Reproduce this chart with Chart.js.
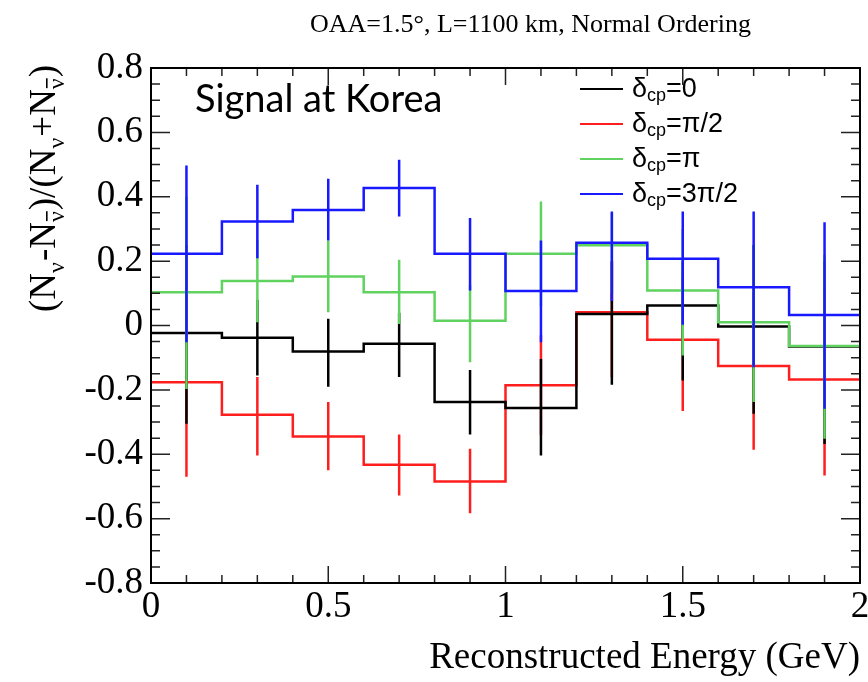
<!DOCTYPE html>
<html>
<head>
<meta charset="utf-8">
<script src="https://cdn.jsdelivr.net/npm/chart.js@4.4.1/dist/chart.umd.min.js"></script>
<style>
  html, body { margin: 0; padding: 0; background: #fff; }
</style>
</head>
<body>
<canvas id="asym" width="868" height="682"></canvas>
<script>
(() => {
    // bins: 10 bins of 0.2 GeV
    const binEdges   = [0, 0.2, 0.4, 0.6, 0.8, 1.0, 1.2, 1.4, 1.6, 1.8, 2.0];
    const binCenters = [0.1, 0.3, 0.5, 0.7, 0.9, 1.1, 1.3, 1.5, 1.7, 1.9];

    // asymmetry per bin, one array per delta_cp
    const asym0    = [-0.023, -0.038, -0.081, -0.057, -0.238, -0.256, 0.036, 0.062, -0.003, -0.065];
    const asymPi2  = [-0.176, -0.277, -0.345, -0.433, -0.485, -0.186, 0.041, -0.044, -0.126, -0.168];
    const asymPi   = [0.103, 0.138, 0.152, 0.103, 0.015, 0.223, 0.249, 0.109, 0.010, -0.064];
    const asym3Pi2 = [0.223, 0.323, 0.359, 0.427, 0.223, 0.107, 0.257, 0.207, 0.119, 0.033];

    // error bar ends (low / high)
    const lo0    = [-0.305, -0.155, -0.190, -0.160, -0.339, -0.404, -0.184, -0.171, -0.274, -0.368];
    const hi0    = [0.250, 0.080, 0.021, 0.040, -0.138, -0.104, 0.200, 0.200, 0.250, 0.200];
    const loPi2  = [-0.470, -0.404, -0.450, -0.528, -0.583, -0.340, -0.160, -0.266, -0.386, -0.466];
    const hiPi2  = [0.120, -0.160, -0.238, -0.339, -0.383, -0.030, 0.200, 0.150, 0.100, 0.100];
    const loPi   = [-0.197, 0.010, 0.041, 0.005, -0.114, 0.060, 0.100, -0.093, -0.238, -0.352];
    const hiPi   = [0.400, 0.266, 0.264, 0.204, 0.125, 0.385, 0.350, 0.300, 0.250, 0.220];
    const lo3Pi2 = [-0.052, 0.209, 0.264, 0.339, 0.109, -0.052, 0.076, 0.002, -0.130, -0.259];
    const hi3Pi2 = [0.497, 0.437, 0.456, 0.515, 0.334, 0.264, 0.354, 0.354, 0.354, 0.321];

    const legendLabels = ['0', 'π/2', 'π', '3π/2'];
    const yTicks = [-0.8, -0.6, -0.4, -0.2, 0, 0.2, 0.4, 0.6, 0.8];
    const xTicks = [0, 0.5, 1, 1.5, 2];

    const colors = ['#000000', 'rgb(255,30,30)', 'rgb(95,210,95)', 'rgb(25,25,255)'];
    // draw order: red at the back, then black, green, blue on top
    const orders = [3, 4, 2, 1];

    const fmt = v => String(Number(v.toFixed(2)));

    const stepData = vals => {
        const pts = vals.map((v, i) => ({x: binEdges[i], y: v}));
        pts.push({x: binEdges[binEdges.length - 1], y: vals[vals.length - 1]});
        return pts;
    };
    const errData = (lo, hi) => {
        const pts = [];
        binCenters.forEach((c, i) => {
            pts.push({x: c, y: lo[i]}, {x: c, y: hi[i]}, {x: c, y: null});
        });
        return pts;
    };

    const series = [
        [asym0, lo0, hi0],
        [asymPi2, loPi2, hiPi2],
        [asymPi, loPi, hiPi],
        [asym3Pi2, lo3Pi2, hi3Pi2]
    ];

    const datasets = [];
    series.forEach((s, k) => {
        datasets.push({
            label: 'dcp=' + legendLabels[k],
            data: stepData(s[0]),
            stepped: true,
            borderColor: colors[k],
            borderWidth: 2.5,
            pointRadius: 0,
            fill: false,
            order: orders[k]
        });
        datasets.push({
            label: 'err ' + legendLabels[k],
            data: errData(s[1], s[2]),
            borderColor: colors[k],
            borderWidth: 2.5,
            pointRadius: 0,
            spanGaps: false,
            fill: false,
            order: orders[k]
        });
    });

    // frame, inner ticks, titles and legend in ROOT style
    const rootStyle = {
        id: 'rootStyle',
        afterDraw(chart) {
            const {ctx, chartArea: a, scales: {x, y}} = chart;
            ctx.save();
            ctx.strokeStyle = '#222';
            ctx.lineWidth = 1.5;
            ctx.beginPath();
            for (let k = 0; k <= 20; k++) {
                const px = x.getPixelForValue(k * 0.1);
                const len = k % 5 === 0 ? 17 : 8;
                ctx.moveTo(px, a.bottom); ctx.lineTo(px, a.bottom - len);
                ctx.moveTo(px, a.top); ctx.lineTo(px, a.top + len);
            }
            for (let k = -16; k <= 16; k++) {
                const py = y.getPixelForValue(k * 0.05);
                const len = k % 4 === 0 ? 19 : 9;
                ctx.moveTo(a.left, py); ctx.lineTo(a.left + len, py);
                ctx.moveTo(a.right, py); ctx.lineTo(a.right - len, py);
            }
            ctx.stroke();
            ctx.strokeStyle = '#000';
            ctx.lineWidth = 2;
            ctx.strokeRect(a.left, a.top, a.right - a.left, a.bottom - a.top);

            // title
            ctx.fillStyle = '#000';
            ctx.font = '26px "Liberation Serif"';
            ctx.textBaseline = 'alphabetic';
            ctx.textAlign = 'left';
            ctx.fillText('OAA=1.5°, L=1100 km, Normal Ordering', 310, 32);

            // y title with subscripts
            ctx.save();
            ctx.translate(55, 312);
            ctx.rotate(-Math.PI / 2);
            const big = '37px "Liberation Serif"', small = '24px "Liberation Serif"';
            const parts = [['(', 0], ['N', 0], ['ν', 1], ['-', 0], ['N', 0], ['ν', 2], [')', 0], ['/', 0],
                           ['(', 0], ['N', 0], ['ν', 1], ['+', 0], ['N', 0], ['ν', 2], [')', 0]];
            let cx = 0;
            parts.forEach(([t, sub]) => {
                ctx.font = sub ? small : big;
                const w = ctx.measureText(t).width;
                ctx.fillText(t, cx, sub ? 9 : 0);
                if (sub === 2) {
                    ctx.fillRect(cx + 1, -9, w - 1, 1.6);
                }
                cx += w + (sub ? 1 : 0);
            });
            ctx.restore();

            // text inside the frame
            ctx.font = '38px Lato';
            ctx.fillText('Signal at Korea', 195, 112);

            // legend
            legendLabels.forEach((lab, k) => {
                const ly = 89 + k * 35;
                ctx.strokeStyle = colors[k];
                ctx.lineWidth = 2;
                ctx.beginPath();
                ctx.moveTo(580, ly); ctx.lineTo(623, ly);
                ctx.stroke();
                ctx.fillStyle = '#000';
                let lx = 632;
                ctx.font = '27px "Liberation Sans"';
                ctx.fillText('δ', lx, ly + 8);
                lx += ctx.measureText('δ').width;
                ctx.font = '18px "Liberation Sans"';
                ctx.fillText('cp', lx, ly + 12);
                lx += ctx.measureText('cp').width;
                ctx.font = '27px "Liberation Sans"';
                ctx.fillText('=' + lab, lx, ly + 8);
            });
            ctx.restore();
        }
    };

    new Chart(document.getElementById('asym'), {
        type: 'line',
        data: {datasets},
        options: {
            responsive: false,
            animation: false,
            devicePixelRatio: 1,
            layout: {padding: {top: 68, right: 8, left: 0, bottom: 0}},
            plugins: {legend: {display: false}, tooltip: {enabled: false}},
            scales: {
                x: {
                    type: 'linear',
                    min: 0, max: 2,
                    afterBuildTicks: s => { s.ticks = xTicks.map(v => ({value: v})); },
                    afterFit: s => { s.height = 99; s.paddingLeft = 0; s.paddingRight = 0; },
                    grid: {display: false, drawTicks: false},
                    border: {display: false},
                    ticks: {
                        padding: 2,
                        color: '#000',
                        maxRotation: 0,
                        autoSkip: false,
                        font: {family: 'Liberation Serif', size: 37},
                        callback: v => fmt(v)
                    },
                    title: {
                        display: true,
                        text: 'Reconstructed Energy (GeV)',
                        align: 'end',
                        color: '#000',
                        font: {family: 'Liberation Serif', size: 37},
                        padding: {top: 0, bottom: 2}
                    }
                },
                y: {
                    min: -0.8, max: 0.8,
                    afterBuildTicks: s => { s.ticks = yTicks.map(v => ({value: v})); },
                    afterFit: s => { s.width = 151; s.paddingTop = 0; s.paddingBottom = 0; },
                    grid: {display: false, drawTicks: false},
                    border: {display: false},
                    ticks: {
                        padding: 8,
                        color: '#000',
                        autoSkip: false,
                        font: {family: 'Liberation Serif', size: 37},
                        callback: v => fmt(v)
                    }
                }
            }
        },
        plugins: [rootStyle]
    });
})();
</script>
</body>
</html>
